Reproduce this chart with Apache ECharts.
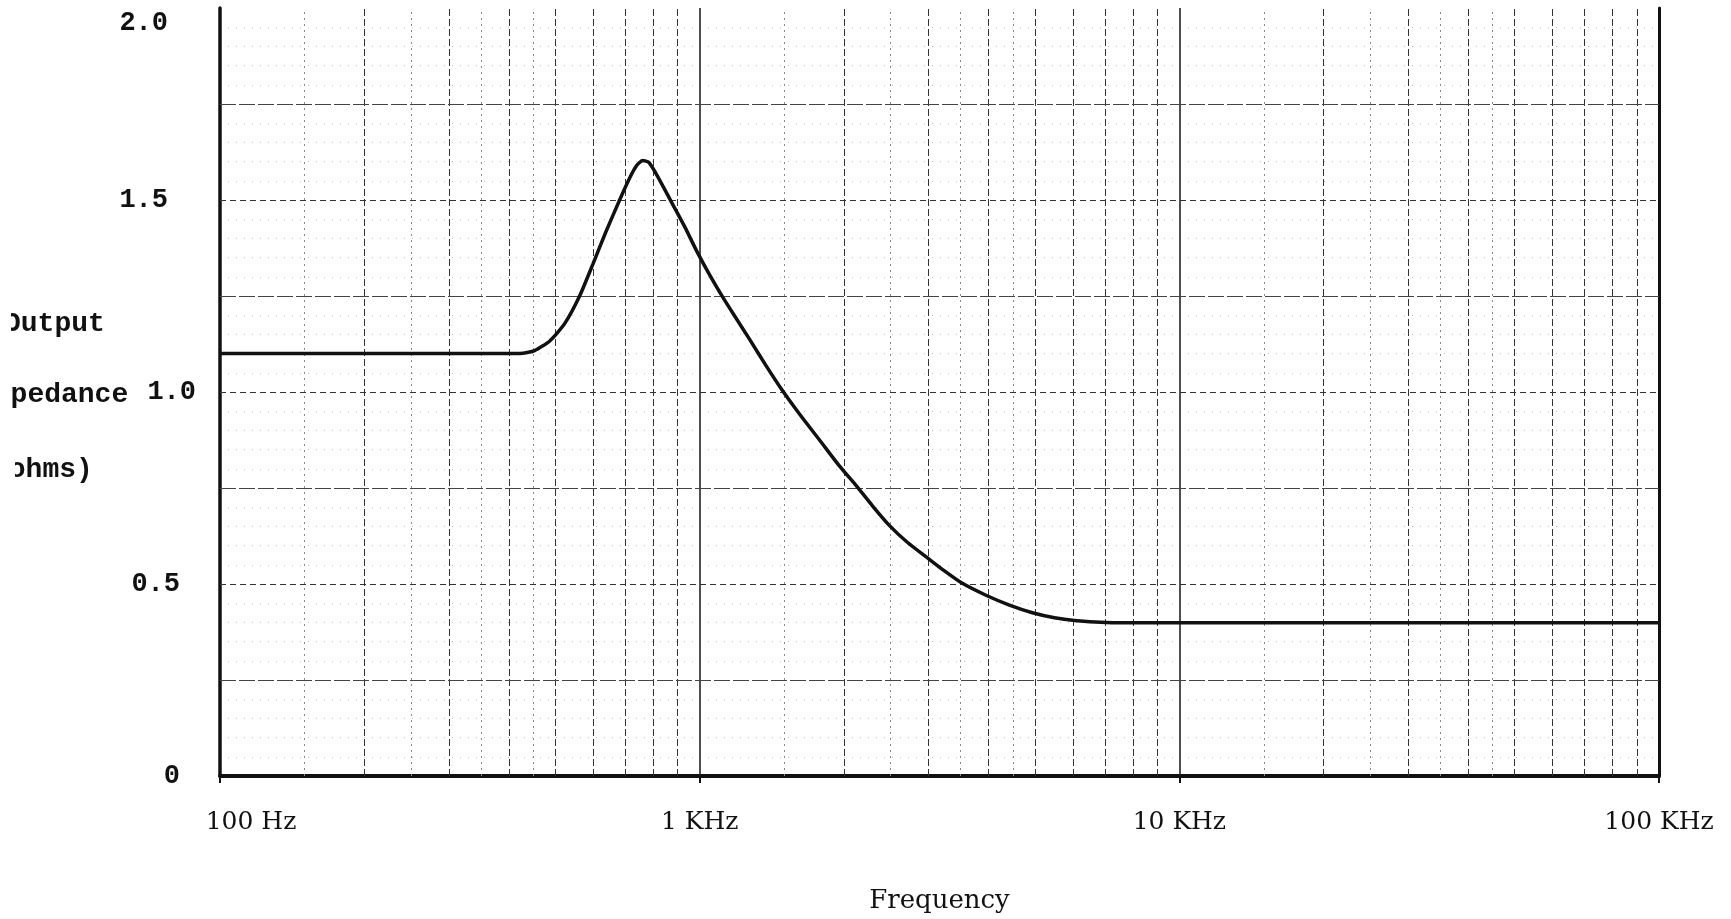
<!DOCTYPE html>
<html>
<head>
<meta charset="utf-8">
<title>Output Impedance vs Frequency</title>
<script src="https://cdn.jsdelivr.net/npm/echarts@6/dist/echarts.min.js"></script>
<style>
html, body { margin: 0; padding: 0; background: #fff; }
#chart { width: 1731px; height: 919px; }
</style>
</head>
<body>
<div id="chart"></div>
<script>
// 曲线数据 (Hz, ohms)
const freqHz = [100, 200, 383, 422, 453, 487, 523, 562, 599, 637, 681, 715, 739, 761, 783, 810, 841, 874, 931, 986, 1049, 1117, 1194, 1271, 1373, 1489, 1616, 1778, 1957, 2124, 2294, 2488, 2713, 2985, 3239, 3514, 3962, 4424, 4941, 5491, 6043, 7045, 8254, 30000, 100000]
const impedance = [1.10, 1.10, 1.10, 1.10, 1.108, 1.133, 1.178, 1.25, 1.333, 1.416, 1.50, 1.558, 1.59, 1.603, 1.598, 1.57, 1.533, 1.494, 1.43, 1.367, 1.305, 1.247, 1.19, 1.137, 1.07, 1.003, 0.942, 0.875, 0.807, 0.755, 0.703, 0.652, 0.608, 0.568, 0.534, 0.503, 0.47, 0.445, 0.425, 0.412, 0.405, 0.40, 0.399, 0.399, 0.399]

// 刻度
const xTicks = [100, 1000, 10000, 100000]
const xTickLabels = ['100 Hz', '1 KHz', '10 KHz', '100 KHz']
const yTicks = [0, 0.5, 1.0, 1.5, 2.0]
const yTickLabels = ['0', '0.5', '1.0', '1.5', '2.0']

// 坐标纸的网格线
const gridDecades = [1000, 10000]
const gridMultiples = [2, 3, 4, 5, 6, 7, 8, 9]
const gridHalves = [1.5, 2.5, 3.5, 4.5]
const hQuarters = [0.25, 0.75, 1.25, 1.75]
const hHalves = [0.5, 1.0, 1.5]

const monoFont = 'Liberation Mono'
const serifFont = 'DejaVu Serif'

// 每个十倍频程里的竖线
function vLines(mults, style) {
    let out = []
    for (let d = 100; d < 100000; d *= 10) {
        for (let i = 0; i < mults.length; i++) {
            out.push({ xAxis: d * mults[i], lineStyle: style })
        }
    }
    return out
}

let gridLines = []
gridLines = gridLines.concat(vLines(gridHalves, { color: '#888', type: [2, 4], width: 1 }))
gridLines = gridLines.concat(vLines(gridMultiples, { color: '#333', type: [7, 3], width: 1 }))
gridDecades.forEach(function (f) {
    gridLines.push({ xAxis: f, lineStyle: { color: '#222', type: 'solid', width: 1.6 } })
})
hQuarters.forEach(function (v) {
    gridLines.push({ yAxis: v, lineStyle: { color: '#444', type: [16, 3], width: 1.2 } })
})
hHalves.forEach(function (v) {
    gridLines.push({ yAxis: v, lineStyle: { color: '#333', type: [6, 4], width: 1 } })
})

let curve = []
for (let i = 0; i < freqHz.length; i++) {
    curve.push([freqHz[i], impedance[i]])
}

// 打字机标签位置参差不齐
const yLabelRich = {
    top: { fontFamily: monoFont, fontWeight: 'bold', fontSize: 27, color: '#111', padding: [30, 28, 0, 0] },
    hi: { fontFamily: monoFont, fontWeight: 'bold', fontSize: 27, color: '#111', padding: [0, 28, 0, 0] },
    lo: { fontFamily: monoFont, fontWeight: 'bold', fontSize: 27, color: '#111', padding: [0, 16, 0, 0] },
    mid: { fontFamily: monoFont, fontWeight: 'bold', fontSize: 27, color: '#111' }
}

let option = {
    animation: false,
    backgroundColor: '#fff',
    grid: { left: 220, right: 72, top: 8, bottom: 138 },
    xAxis: {
        type: 'log',
        logBase: 10,
        min: 100,
        max: 100000,
        splitNumber: 3,
        name: 'Frequency',
        nameLocation: 'middle',
        nameGap: 112,
        nameTextStyle: { fontFamily: serifFont, fontSize: 26, color: '#111' },
        axisLine: { show: true, lineStyle: { color: '#111', width: 4 } },
        axisTick: { show: true, length: 7, lineStyle: { color: '#111', width: 2 } },
        splitLine: { show: false },
        axisLabel: {
            margin: 34,
            fontFamily: serifFont,
            fontSize: 25,
            color: '#111',
            formatter: function (v) {
                const idx = Math.round(Math.log10(v)) - 2
                const txt = xTickLabels[idx] || ''
                return idx === 0 ? '{first|' + txt + '}' : txt
            },
            rich: {
                first: { fontFamily: serifFont, fontSize: 25, color: '#111', padding: [0, 0, 0, 62] }
            }
        }
    },
    yAxis: [{
        type: 'value',
        min: 0,
        max: 2,
        interval: 0.25,
        axisLine: { show: true, lineStyle: { color: '#111', width: 3.5 } },
        axisTick: { show: false },
        splitLine: { show: false },
        minorTick: { show: false, splitNumber: 5 },
        minorSplitLine: { show: true, lineStyle: { color: '#c4c4c4', type: [1, 7], width: 1 } },
        axisLabel: {
            margin: 24,
            fontFamily: monoFont,
            fontWeight: 'bold',
            fontSize: 27,
            color: '#111',
            formatter: function (v) {
                const idx = yTicks.indexOf(v)
                if (idx < 0) return ''
                let key = 'lo'
                if (v === 2) key = 'top'
                else if (v === 1.5) key = 'hi'
                else if (v === 1) key = 'mid'
                return '{' + key + '|' + yTickLabels[idx] + '}'
            },
            rich: yLabelRich
        }
    }, {
        // 右侧边框 (100 KHz)
        type: 'value',
        min: 0,
        max: 2,
        position: 'right',
        axisLine: { show: true, lineStyle: { color: '#111', width: 3 } },
        axisTick: { show: false },
        axisLabel: { show: false },
        splitLine: { show: false }
    }],
    series: [{
        name: 'grid',
        type: 'line',
        data: [],
        z: 1,
        markLine: {
            silent: true,
            symbol: 'none',
            label: { show: false },
            data: gridLines
        }
    }, {
        name: 'Output impedance',
        type: 'line',
        z: 5,
        data: curve,
        showSymbol: false,
        smooth: 0.2,
        lineStyle: { color: '#111', width: 3.5 }
    }],
    graphic: [
        { type: 'text', left: 4, top: 310, z: 10, style: { text: 'Output', font: 'bold 28px "Liberation Mono"', fill: '#111' } },
        { type: 'text', left: -23, top: 381, z: 10, style: { text: 'Impedance', font: 'bold 28px "Liberation Mono"', fill: '#111' } },
        { type: 'text', left: -8, top: 456, z: 10, style: { text: '(ohms)', font: 'bold 28px "Liberation Mono"', fill: '#111' } },
        // 扫描件左边缘被裁掉的部分
        { type: 'rect', left: 0, top: 305, z: 20, shape: { width: 11, height: 40 }, style: { fill: '#fff' } },
        { type: 'rect', left: 0, top: 376, z: 20, shape: { width: 10, height: 40 }, style: { fill: '#fff' } },
        { type: 'rect', left: 0, top: 451, z: 20, shape: { width: 15, height: 40 }, style: { fill: '#fff' } }
    ]
}

let myChart = echarts.init(document.getElementById('chart'))
myChart.setOption(option)
</script>
</body>
</html>
